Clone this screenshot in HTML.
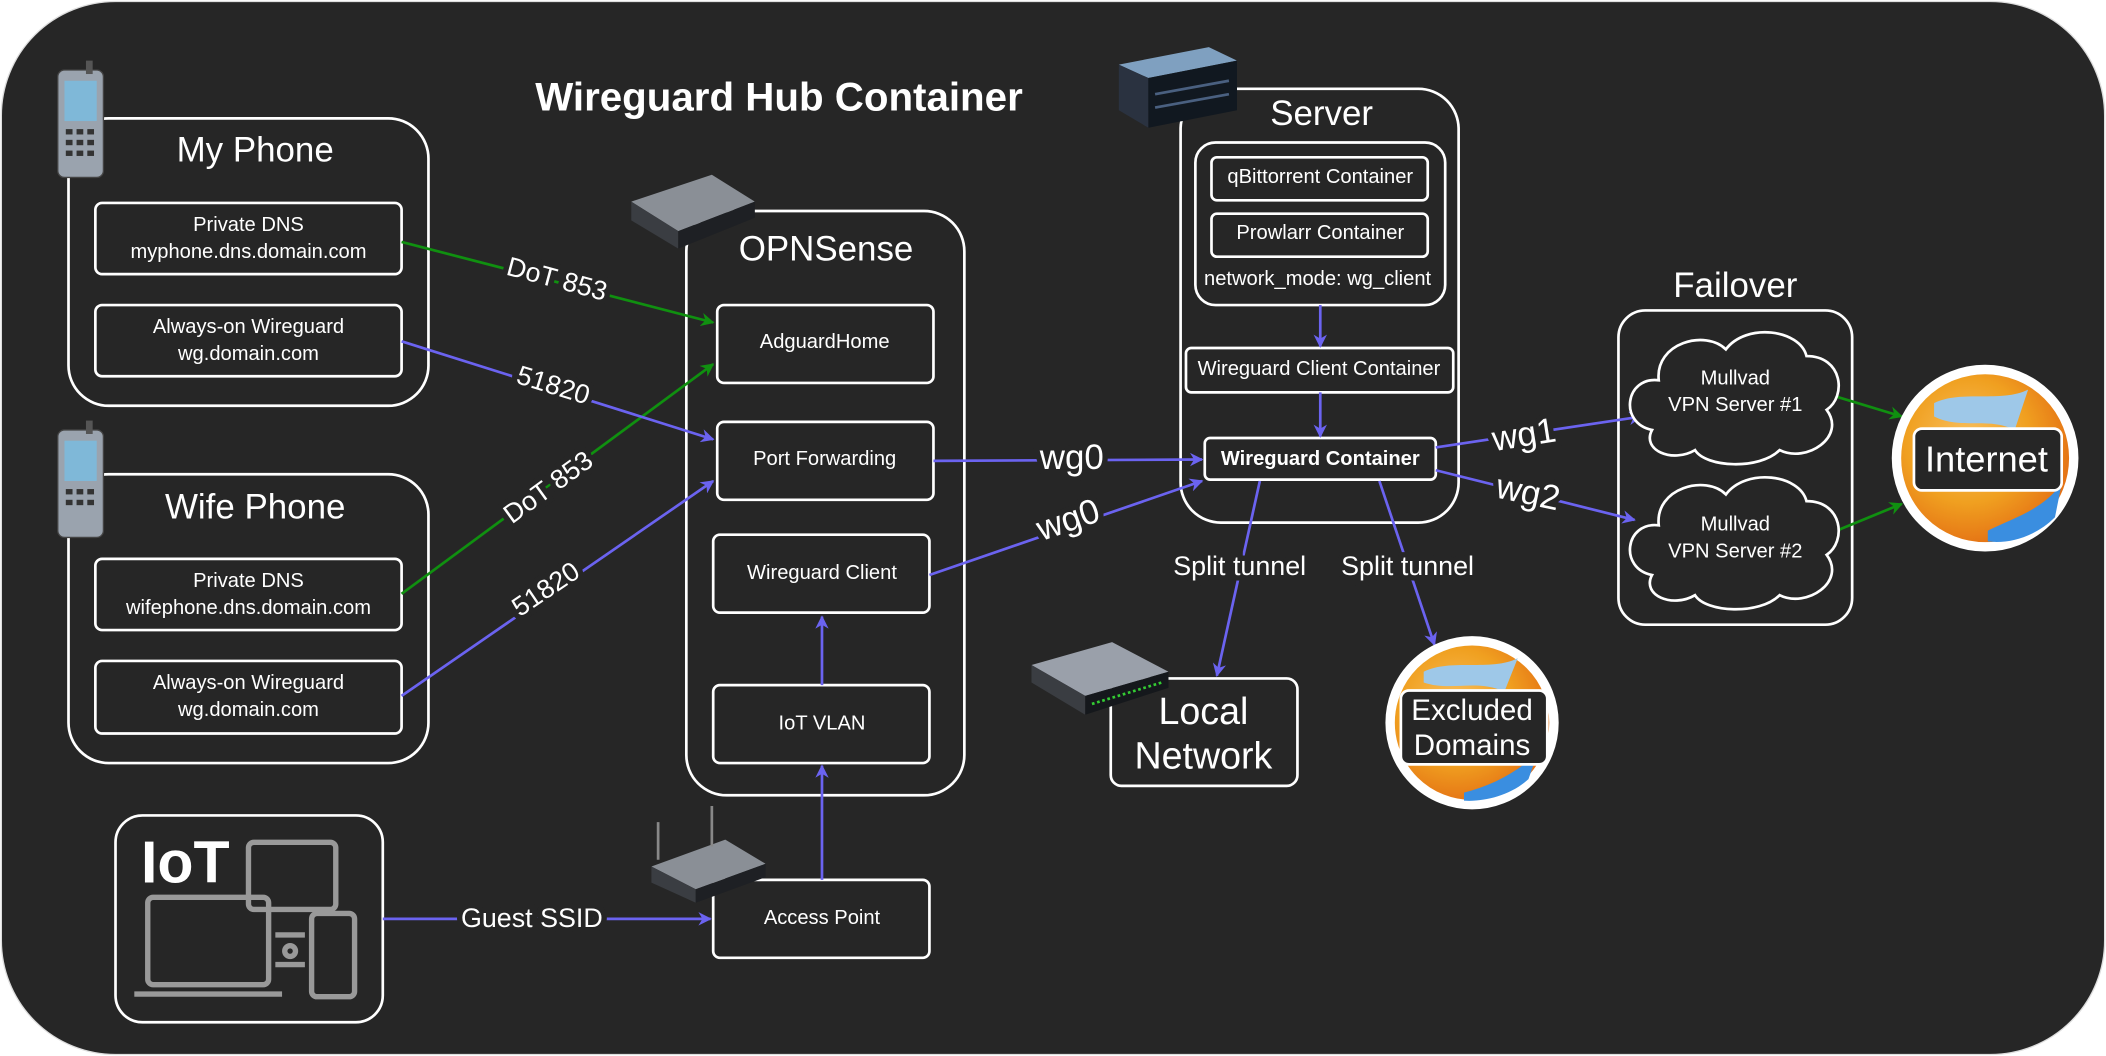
<!DOCTYPE html>
<html><head><meta charset="utf-8"><style>
html,body{margin:0;padding:0;background:#fff;}
svg{display:block;}
text{font-family:"Liberation Sans",sans-serif;fill:#fff;}
</style></head><body>
<svg width="2106" height="1056" viewBox="0 0 1568 786" xmlns="http://www.w3.org/2000/svg">
<defs>
<marker id="ab" markerWidth="10" markerHeight="10" refX="9" refY="5" orient="auto" markerUnits="userSpaceOnUse"><path d="M0,0 L10,5 L0,10 L3,5 z" fill="#6b63f0"/></marker>
<marker id="ag" markerWidth="10" markerHeight="10" refX="9" refY="5" orient="auto" markerUnits="userSpaceOnUse"><path d="M0,0 L10,5 L0,10 L3,5 z" fill="#109010"/></marker>
<radialGradient id="globe" cx="0.4" cy="0.4" r="0.7"><stop offset="0" stop-color="#f8c060"/><stop offset="0.5" stop-color="#f0a020"/><stop offset="1" stop-color="#e06010"/></radialGradient>
</defs>
<rect x="1" y="1" width="1566" height="784" rx="85" fill="#262626" stroke="#ddd" stroke-width="1"/>
<text x="580" y="82" font-size="30" font-weight="bold" text-anchor="middle">Wireguard Hub Container</text>

<g fill="none" stroke="#fff" stroke-width="2">
<rect x="51" y="88" width="268" height="214" rx="30"/>
<rect x="71" y="151" width="228" height="53" rx="5"/>
<rect x="71" y="227" width="228" height="53" rx="5"/>
<rect x="51" y="353" width="268" height="215" rx="30"/>
<rect x="71" y="416" width="228" height="53" rx="5"/>
<rect x="71" y="492" width="228" height="54" rx="5"/>
<rect x="86" y="607" width="199" height="154" rx="20"/>
<rect x="511" y="157" width="207" height="435" rx="30"/>
<rect x="534" y="227" width="161" height="58" rx="5"/>
<rect x="534" y="314" width="161" height="58" rx="5"/>
<rect x="531" y="398" width="161" height="58" rx="5"/>
<rect x="531" y="510" width="161" height="58" rx="5"/>
<rect x="531" y="655" width="161" height="58" rx="5"/>
<rect x="879" y="66" width="207" height="323" rx="30"/>
<rect x="890" y="106" width="186" height="121" rx="15"/>
<rect x="902" y="117" width="161" height="32" rx="4"/>
<rect x="902" y="159" width="161" height="32" rx="4"/>
<rect x="883" y="259" width="199" height="33" rx="4"/>
<rect x="897" y="326" width="172" height="31" rx="4"/>
<rect x="1205" y="231" width="174" height="234" rx="20"/>
<rect x="827" y="505" width="139" height="80" rx="8"/>
</g>

<g font-size="26" text-anchor="middle">
<text x="190" y="120">My Phone</text>
<text x="190" y="386">Wife Phone</text>
<text x="615" y="194">OPNSense</text>
<text x="984" y="93">Server</text>
<text x="1292" y="221">Failover</text>
</g>
<g font-size="15" text-anchor="middle">
<text x="185" y="172">Private DNS</text><text x="185" y="192">myphone.dns.domain.com</text>
<text x="185" y="248">Always-on Wireguard</text><text x="185" y="268">wg.domain.com</text>
<text x="185" y="437">Private DNS</text><text x="185" y="457">wifephone.dns.domain.com</text>
<text x="185" y="513">Always-on Wireguard</text><text x="185" y="533">wg.domain.com</text>
<text x="614" y="259">AdguardHome</text>
<text x="614" y="346">Port Forwarding</text>
<text x="612" y="431">Wireguard Client</text>
<text x="612" y="543">IoT VLAN</text>
<text x="612" y="688">Access Point</text>
<text x="983" y="136">qBittorrent Container</text>
<text x="983" y="178">Prowlarr Container</text>
<text x="981" y="212">network_mode: wg_client</text>
<text x="982" y="279">Wireguard Client Container</text>
<text x="983" y="346" font-weight="bold">Wireguard Container</text>
</g>
<text x="896" y="539" font-size="28" text-anchor="middle">Local</text>
<text x="896" y="572" font-size="28" text-anchor="middle">Network</text>

<!-- IoT icon -->
<text x="105" y="657" font-size="44" font-weight="bold">IoT</text>
<g fill="none" stroke="#999" stroke-width="4">
<rect x="185" y="627" width="65" height="50" rx="4"/>
<rect x="110" y="668" width="90" height="65" rx="4"/>
<path d="M100,740 L210,740"/>
<rect x="232" y="680" width="32" height="62" rx="4"/>
<circle cx="216" cy="708" r="4"/><path d="M205,696 L227,696 M205,718 L227,718"/>
</g>

<!-- edges -->
<g fill="none" stroke-width="2">
<path d="M299,180 L531,240" stroke="#109010" marker-end="url(#ag)"/>
<path d="M299,442 L531,271" stroke="#109010" marker-end="url(#ag)"/>
<path d="M299,254 L531,327" stroke="#6b63f0" marker-end="url(#ab)"/>
<path d="M299,518 L531,358" stroke="#6b63f0" marker-end="url(#ab)"/>
<path d="M695,343 L895,342" stroke="#6b63f0" marker-end="url(#ab)"/>
<path d="M692,428 L895,358" stroke="#6b63f0" marker-end="url(#ab)"/>
<path d="M612,510 L612,459" stroke="#6b63f0" marker-end="url(#ab)"/>
<path d="M612,655 L612,570" stroke="#6b63f0" marker-end="url(#ab)"/>
<path d="M285,684 L529,684" stroke="#6b63f0" marker-end="url(#ab)"/>
<path d="M983,227 L983,258" stroke="#6b63f0" marker-end="url(#ab)"/>
<path d="M983,292 L983,325" stroke="#6b63f0" marker-end="url(#ab)"/>
<path d="M1069,333 L1222,310" stroke="#6b63f0" marker-end="url(#ab)"/>
<path d="M1069,350 L1217,387" stroke="#6b63f0" marker-end="url(#ab)"/>
<path d="M1360,293 L1416,310" stroke="#109010" marker-end="url(#ag)"/>
<path d="M1360,398 L1416,375" stroke="#109010" marker-end="url(#ag)"/>
<path d="M938,358 L906,503" stroke="#6b63f0" marker-end="url(#ab)"/>
<path d="M1027,358 L1068,480" stroke="#6b63f0" marker-end="url(#ab)"/>
</g>
<g font-size="20" text-anchor="middle" stroke="#262626" stroke-width="8" paint-order="stroke">
<text transform="translate(413,214) rotate(15)">DoT 853</text>
<text transform="translate(410,293) rotate(17)">51820</text>
<text transform="translate(412,368) rotate(-36)">DoT 853</text>
<text transform="translate(410,444) rotate(-34)">51820</text>
<text x="396" y="690">Guest SSID</text>
<text x="923" y="428">Split tunnel</text>
<text x="1048" y="428">Split tunnel</text>
</g>
<g font-size="26" text-anchor="middle" stroke="#262626" stroke-width="8" paint-order="stroke">
<text x="798" y="349">wg0</text>
<text transform="translate(798,395) rotate(-19)">wg0</text>
<text transform="translate(1136,332) rotate(-9)">wg1</text>
<text transform="translate(1136,375) rotate(12)">wg2</text>
</g>

<!-- clouds -->
<g fill="#262626" stroke="#fff" stroke-width="2">
<path d="M1230,320 C1205,315 1210,280 1235,283 C1232,255 1270,245 1285,260 C1300,240 1340,245 1345,265 C1372,265 1375,295 1360,305 C1375,325 1345,345 1325,335 C1310,350 1270,348 1262,335 C1245,345 1222,335 1230,320 Z"/>
<path d="M1230,428 C1205,423 1210,388 1235,391 C1232,363 1270,353 1285,368 C1300,348 1340,353 1345,373 C1372,373 1375,403 1360,413 C1375,433 1345,453 1325,443 C1310,458 1270,456 1262,443 C1245,453 1222,443 1230,428 Z"/>
</g>
<g font-size="15" text-anchor="middle">
<text x="1292" y="286">Mullvad</text><text x="1292" y="306">VPN Server #1</text>
<text x="1292" y="395">Mullvad</text><text x="1292" y="415">VPN Server #2</text>
</g>

<!-- globes -->
<circle cx="1478" cy="341" r="66" fill="url(#globe)" stroke="#fff" stroke-width="7"/>
<path d="M1440,300 C1460,290 1490,300 1510,290 L1500,320 C1480,310 1460,320 1440,310Z" fill="#9ec8e8"/>
<path d="M1480,395 C1500,385 1520,380 1535,360 L1530,385 C1515,400 1495,405 1480,403Z" fill="#3a8ee0"/>
<rect x="1425" y="319" width="110" height="46" rx="6" fill="#262626" stroke="#fff" stroke-width="2"/>
<text x="1479" y="351" font-size="27" text-anchor="middle">Internet</text>

<circle cx="1096" cy="538" r="61" fill="url(#globe)" stroke="#fff" stroke-width="7"/>
<path d="M1060,500 C1080,490 1110,500 1130,490 L1120,515 C1100,505 1080,515 1060,508Z" fill="#9ec8e8"/>
<path d="M1090,590 C1110,585 1130,575 1145,560 L1138,580 C1125,592 1105,597 1090,596Z" fill="#3a8ee0"/>
<rect x="1043" y="514" width="109" height="55" rx="6" fill="#262626" stroke="#fff" stroke-width="2"/>
<text x="1096" y="536" font-size="22" text-anchor="middle">Excluded</text>
<text x="1096" y="562" font-size="22" text-anchor="middle">Domains</text>

<!-- phone icons -->
<g>
<rect x="43" y="52" width="34" height="80" rx="5" fill="#9aa3ae" stroke="#444"/>
<rect x="48" y="60" width="24" height="30" fill="#7fb8d8"/>
<rect x="64" y="45" width="5" height="10" fill="#555"/>
<g fill="#333"><rect x="49" y="96" width="5" height="4"/><rect x="57" y="96" width="5" height="4"/><rect x="65" y="96" width="5" height="4"/><rect x="49" y="104" width="5" height="4"/><rect x="57" y="104" width="5" height="4"/><rect x="65" y="104" width="5" height="4"/><rect x="49" y="112" width="5" height="4"/><rect x="57" y="112" width="5" height="4"/><rect x="65" y="112" width="5" height="4"/></g>
</g>
<g transform="translate(0,268)">
<rect x="43" y="52" width="34" height="80" rx="5" fill="#9aa3ae" stroke="#444"/>
<rect x="48" y="60" width="24" height="30" fill="#7fb8d8"/>
<rect x="64" y="45" width="5" height="10" fill="#555"/>
<g fill="#333"><rect x="49" y="96" width="5" height="4"/><rect x="57" y="96" width="5" height="4"/><rect x="65" y="96" width="5" height="4"/><rect x="49" y="104" width="5" height="4"/><rect x="57" y="104" width="5" height="4"/><rect x="65" y="104" width="5" height="4"/></g>
</g>

<!-- router icons -->
<g>
<path d="M470,150 L530,130 L562,150 L505,172 Z" fill="#8a8f96"/>
<path d="M470,150 L505,172 L505,185 L470,164 Z" fill="#3a3d42"/>
<path d="M505,172 L562,150 L562,162 L505,185 Z" fill="#1e2024"/>
</g>
<g>
<path d="M485,645 L540,625 L570,643 L518,662 Z" fill="#8a8f96"/>
<path d="M485,645 L518,662 L518,672 L485,657 Z" fill="#3a3d42"/>
<path d="M518,662 L570,643 L570,653 L518,672 Z" fill="#1e2024"/>
<path d="M490,640 L490,612 M530,630 L530,600" stroke="#888" stroke-width="2"/>
</g>
<!-- switch -->
<g>
<path d="M768,495 L828,478 L870,500 L808,518 Z" fill="#9aa0aa"/>
<path d="M768,495 L808,518 L808,532 L768,508 Z" fill="#3a3d42"/>
<path d="M808,518 L870,500 L870,512 L808,532 Z" fill="#15181c"/>
<path d="M813,524 L865,508" stroke="#3c3" stroke-width="2" stroke-dasharray="2 2"/>
</g>
<!-- server icon -->
<g>
<path d="M833,48 L900,35 L921,45 L855,58 Z" fill="#7fa0c0"/>
<path d="M833,48 L855,58 L855,95 L833,82 Z" fill="#2a3240"/>
<path d="M855,58 L921,45 L921,82 L855,95 Z" fill="#111820"/>
<path d="M860,70 L915,60 M860,80 L915,70" stroke="#4a6080" stroke-width="2"/>
</g>
</svg>
</body></html>
